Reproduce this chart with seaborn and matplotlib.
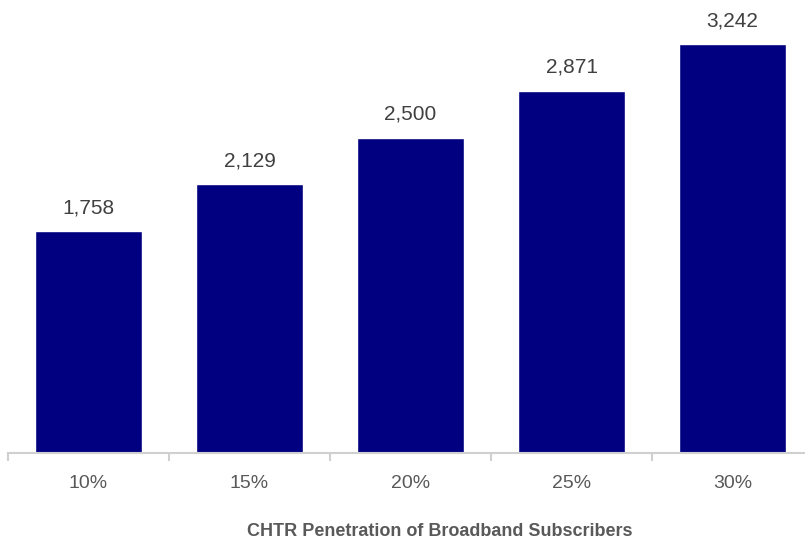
import matplotlib
matplotlib.use("Agg")
import matplotlib.pyplot as plt
import seaborn as sns
import pandas as pd

categories = ["10%", "15%", "20%", "25%", "30%"]
values = [1758, 2129, 2500, 2871, 3242]
xlabel = "CHTR Penetration of Broadband Subscribers"

sns.set_theme(style="white")
fam = ["Liberation Sans Narrow", "Liberation Sans", "DejaVu Sans"]
plt.rcParams["font.family"] = fam

df = pd.DataFrame({"cat": categories, "val": values})
fig = plt.figure(figsize=(8.05, 5.43), dpi=100)
ax = fig.add_axes([8/805, 90/543, 805/805, 453/543])
sns.barplot(data=df, x="cat", y="val", color="#000080", saturation=1, width=0.66, ax=ax)
ax.set_xlim(-0.5, 4.5)
ax.set_ylim(0, 3590)
for s in ["top", "right", "left"]:
    ax.spines[s].set_visible(False)
ax.spines["bottom"].set_color("#d0d0d0")
ax.spines["bottom"].set_linewidth(1.5)
ax.set_yticks([])
ax.set_ylabel("")
ax.set_xticks([i + 0.5 for i in range(-1, 5)], minor=True)
ax.tick_params(axis="x", which="minor", length=6, width=1.5, color="#d0d0d0", direction="out", bottom=True)
ax.tick_params(axis="x", which="major", length=0, pad=16, labelsize=14, labelcolor="#595959")
ax.set_xlabel(xlabel, fontsize=13, fontweight="bold", color="#595959")
ax.xaxis.set_label_coords((440 - 8) / 805, -(531 - 453) / 453, transform=ax.transAxes)
ax.xaxis.label.set_va("center")
for i, v in enumerate(values):
    ax.text(i, v + 110, f"{v:,}", ha="center", va="bottom", fontsize=15, color="#404040")
fig.savefig("out.png", dpi=100)
